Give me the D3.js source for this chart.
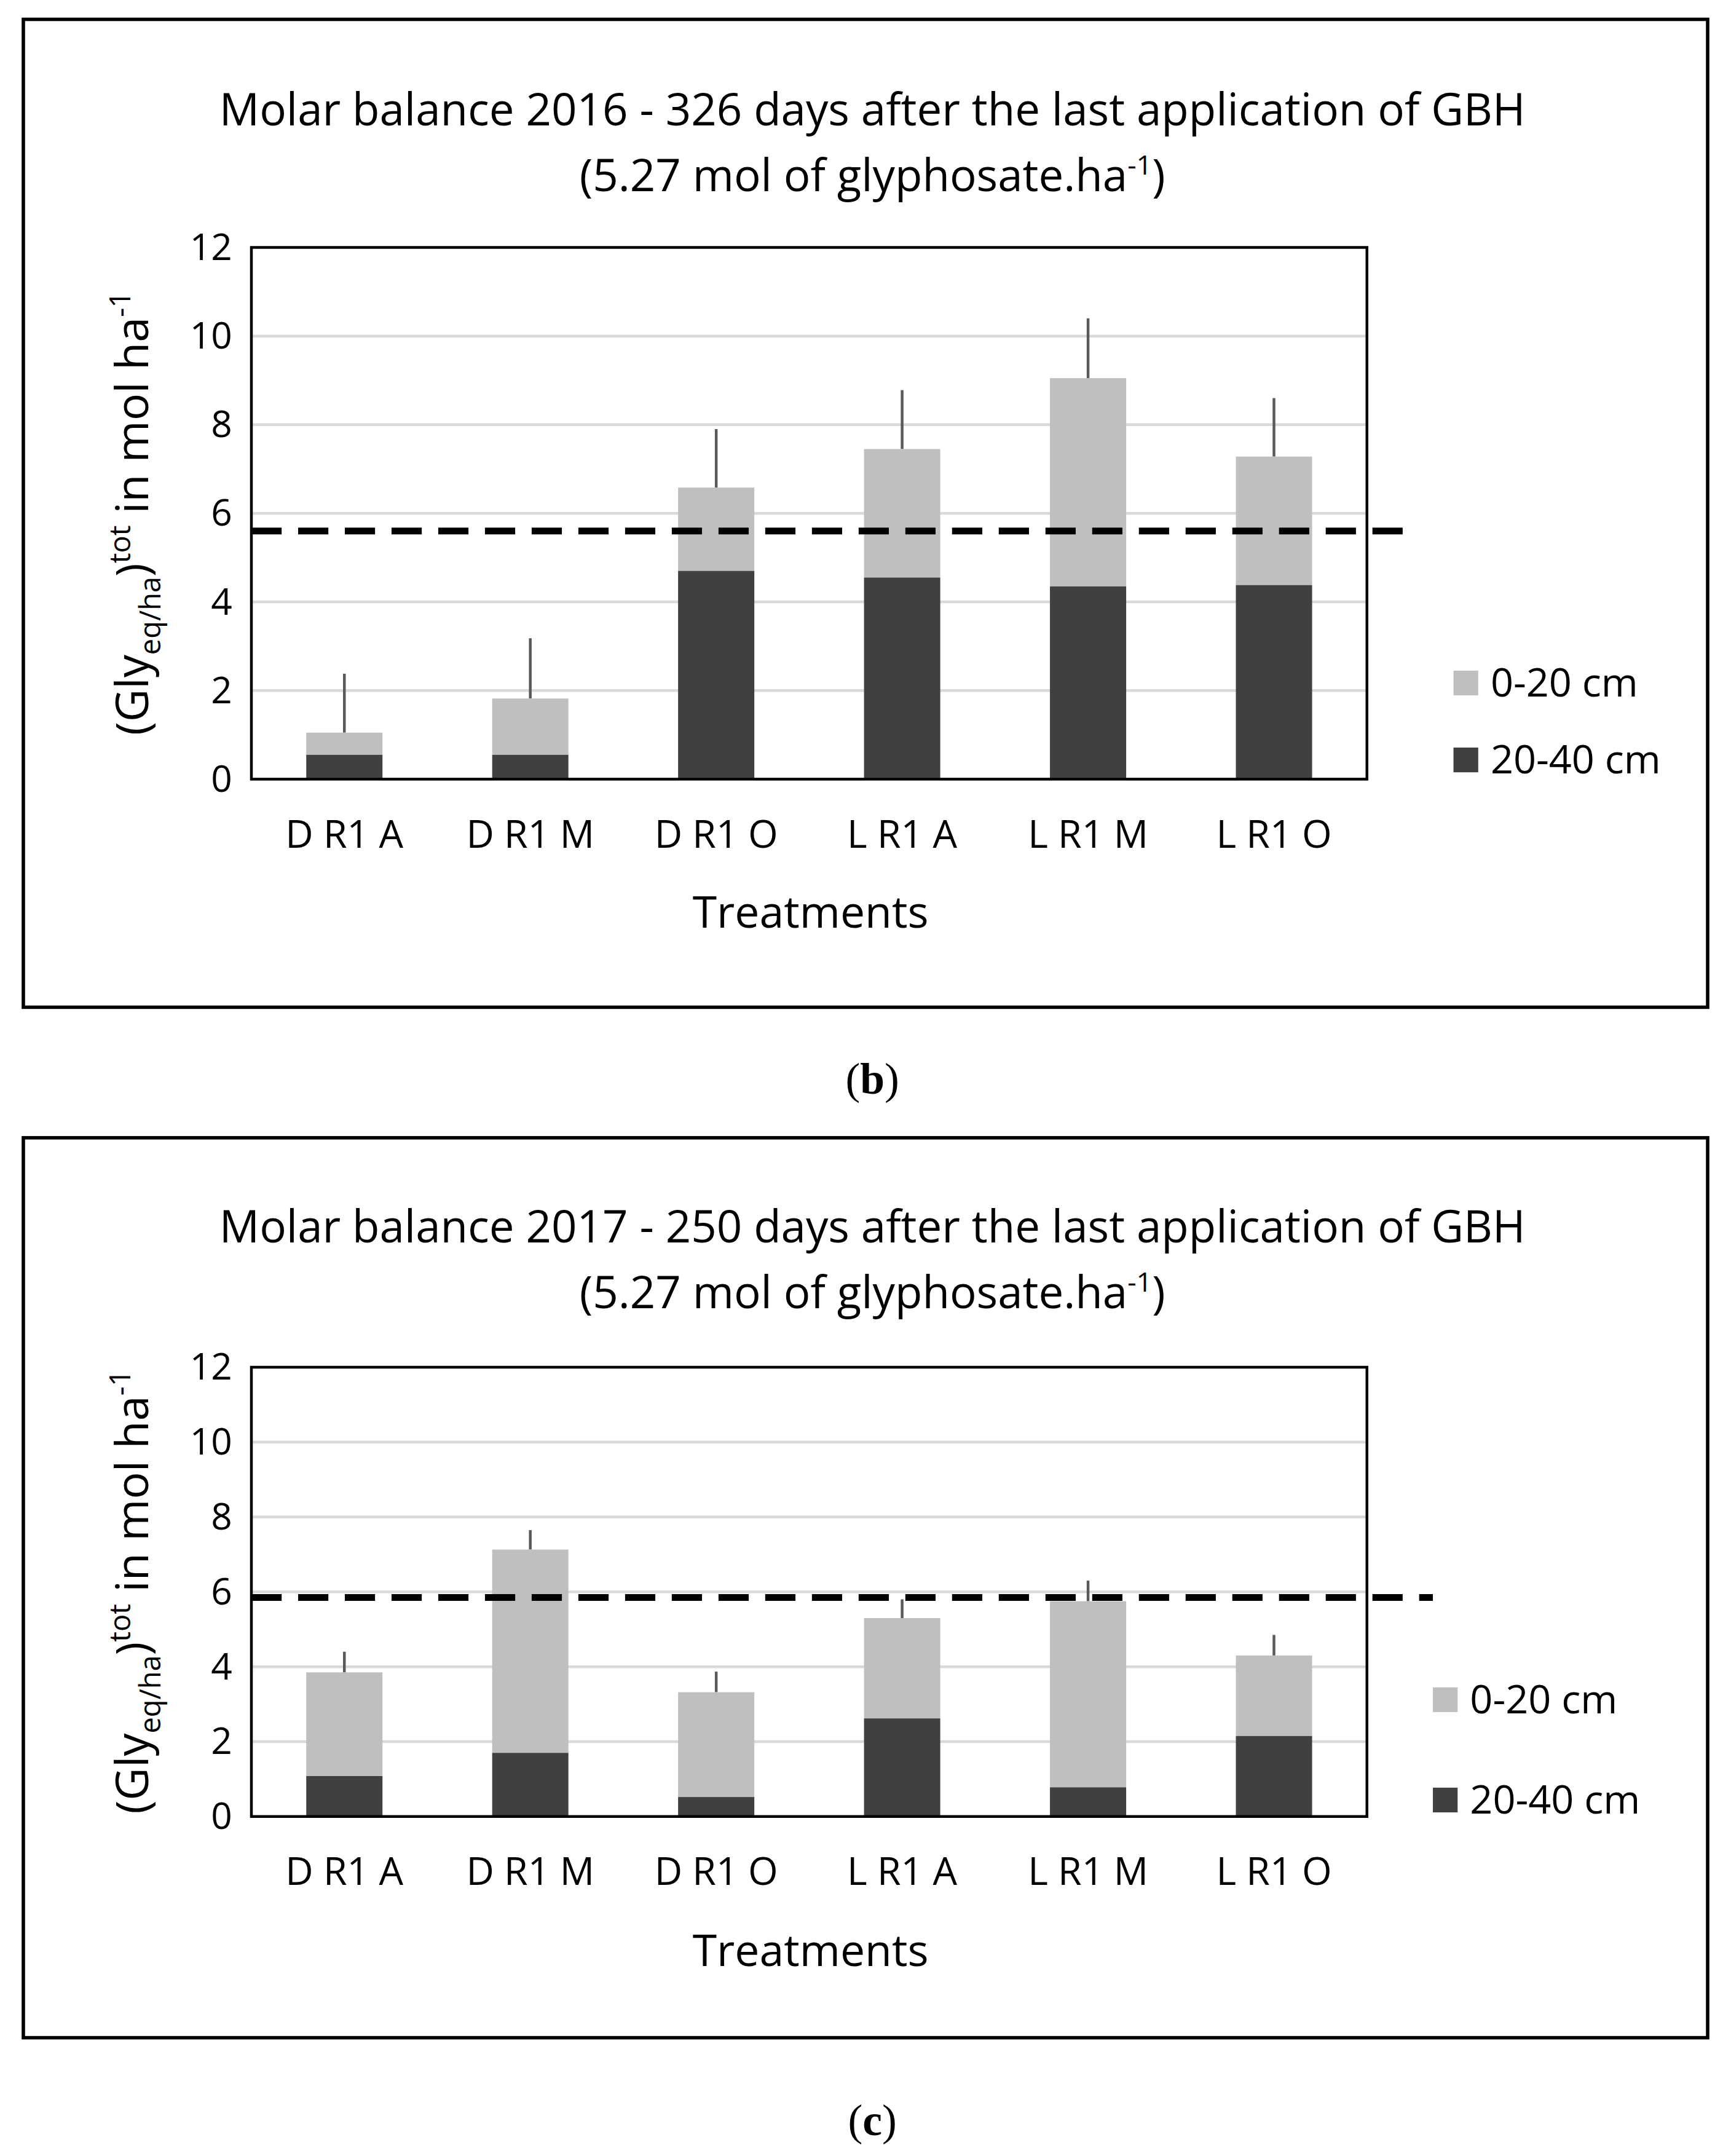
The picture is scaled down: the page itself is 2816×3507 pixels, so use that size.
<!DOCTYPE html>
<html><head><meta charset="utf-8">
<script src="https://cdn.jsdelivr.net/npm/d3@7"></script>
<style>body{margin:0;background:#fff}</style>
</head><body>
<script>
const categories = ["D R1 A","D R1 M","D R1 O","L R1 A","L R1 M","L R1 O"];
const yTicks = [0,2,4,6,8,10,12];
const deepB = [0.55,0.55,4.7,4.55,4.35,4.38];
const totalB = [1.05,1.82,6.58,7.45,9.05,7.28];
const errTopB = [2.38,3.18,7.9,8.78,10.4,8.6];
const refB = 5.6;
const deepC = [1.08,1.7,0.52,2.62,0.78,2.15];
const totalC = [3.85,7.13,3.32,5.3,5.75,4.3];
const errTopC = [4.4,7.65,3.87,5.8,6.3,4.85];
const refC = 5.85;

const W=1260,H=1569;
const svg=d3.select("body").append("svg").attr("width",2816).attr("height",3507)
  .attr("viewBox",`0 0 ${W} ${H}`);
const F="'Open Sans', sans-serif";

function panel(o){
  const g=svg.append("g");
  g.append("rect").attr("x",17).attr("y",o.boxTop).attr("width",1226).attr("height",o.boxH)
    .attr("fill","none").attr("stroke","#000").attr("stroke-width",2.5);
  g.append("text").attr("x",635).attr("y",o.t1).attr("text-anchor","middle")
    .attr("font-family",F).attr("font-size",32.5).text(o.title);
  const t2=g.append("text").attr("x",635).attr("y",o.t1+48).attr("text-anchor","middle")
    .attr("font-family",F).attr("font-size",32.5);
  t2.append("tspan").text("(5.27 mol of glyphosate.ha");
  t2.append("tspan").attr("dy",-12).attr("font-size",20).text("-1");
  t2.append("tspan").attr("dy",12).text(")");
  const x=d3.scaleBand().domain(categories).range([183,995]).paddingInner(0.59).paddingOuter(0.295);
  const y=d3.scaleLinear().domain([0,12]).range([o.bot,o.top]);
  g.selectAll(".grid").data(yTicks.slice(1,-1)).join("line").attr("x1",183).attr("x2",995)
    .attr("y1",d=>y(d)).attr("y2",d=>y(d)).attr("stroke","#d9d9d9").attr("stroke-width",2);
  const ya=g.append("g").attr("transform","translate(183,0)")
    .call(d3.axisLeft(y).tickValues(yTicks).tickSize(0).tickPadding(14));
  ya.select(".domain").remove();
  ya.selectAll("text").attr("font-family",F).attr("font-size",27).attr("fill","#000");
  const xa=g.append("g").attr("transform",`translate(0,${o.bot})`)
    .call(d3.axisBottom(x).tickSize(0).tickPadding(30));
  xa.select(".domain").remove();
  xa.selectAll("text").attr("font-family",F).attr("font-size",28).attr("fill","#000");
  categories.forEach((c,i)=>{
    g.append("line").attr("x1",x(c)+x.bandwidth()/2).attr("x2",x(c)+x.bandwidth()/2)
      .attr("y1",y(o.total[i])).attr("y2",y(o.err[i])).attr("stroke","#595959").attr("stroke-width",2);
    g.append("rect").attr("x",x(c)).attr("width",x.bandwidth()).attr("y",y(o.total[i]))
      .attr("height",y(o.deep[i])-y(o.total[i])).attr("fill","#bfbfbf");
    g.append("rect").attr("x",x(c)).attr("width",x.bandwidth()).attr("y",y(o.deep[i]))
      .attr("height",y(0)-y(o.deep[i])).attr("fill","#404040");
  });
  g.append("rect").attr("x",183).attr("y",o.top).attr("width",812).attr("height",o.bot-o.top)
    .attr("fill","none").attr("stroke","#000").attr("stroke-width",2);
  g.append("line").attr("x1",183).attr("x2",o.dashEnd).attr("y1",y(o.ref)).attr("y2",y(o.ref))
    .attr("stroke","#000").attr("stroke-width",5).attr("stroke-dasharray","22,12");
  g.append("text").attr("x",590).attr("y",o.xt).attr("text-anchor","middle")
    .attr("font-family",F).attr("font-size",32).text("Treatments");
  const yl=g.append("text").attr("transform",`translate(108,${(o.top+o.bot)/2}) rotate(-90)`)
    .attr("text-anchor","middle").attr("font-family",F).attr("font-size",33);
  yl.append("tspan").text("(Gly");
  yl.append("tspan").attr("dy",9).attr("font-size",21).text("eq/ha");
  yl.append("tspan").attr("dy",-9).text(")");
  yl.append("tspan").attr("dy",-13).attr("font-size",21).text("tot");
  yl.append("tspan").attr("dy",13).text("   in mol ha");
  yl.append("tspan").attr("dy",-13).attr("font-size",21).text("-1");
  [["0-20 cm","#bfbfbf",o.l1],["20-40 cm","#404040",o.l2]].forEach(([n,c,ly])=>{
    g.append("rect").attr("x",o.lx).attr("y",ly-9).attr("width",18).attr("height",18).attr("fill",c);
    g.append("text").attr("x",o.lx+27).attr("y",ly+10).attr("font-family",F).attr("font-size",29).text(n);
  });
  const lab=g.append("text").attr("x",635).attr("y",o.lab).attr("text-anchor","middle")
    .attr("font-family","'Liberation Serif', serif").attr("font-size",32);
  lab.append("tspan").text("(");
  lab.append("tspan").attr("font-weight","bold").text(o.letter);
  lab.append("tspan").text(")");
}
panel({boxTop:14,boxH:719,t1:91,title:"Molar balance 2016 - 326 days after the last application of GBH",
  top:180,bot:567,total:totalB,deep:deepB,err:errTopB,ref:refB,xt:675,l1:497,l2:553,lx:1058,dashEnd:1033,lab:796,letter:"b"});
panel({boxTop:828,boxH:655,t1:904,title:"Molar balance 2017 - 250 days after the last application of GBH",
  top:995,bot:1322,total:totalC,deep:deepC,err:errTopC,ref:refC,xt:1431,l1:1237,l2:1310,lx:1043,dashEnd:1043,lab:1554,letter:"c"});
</script>
</body></html>
